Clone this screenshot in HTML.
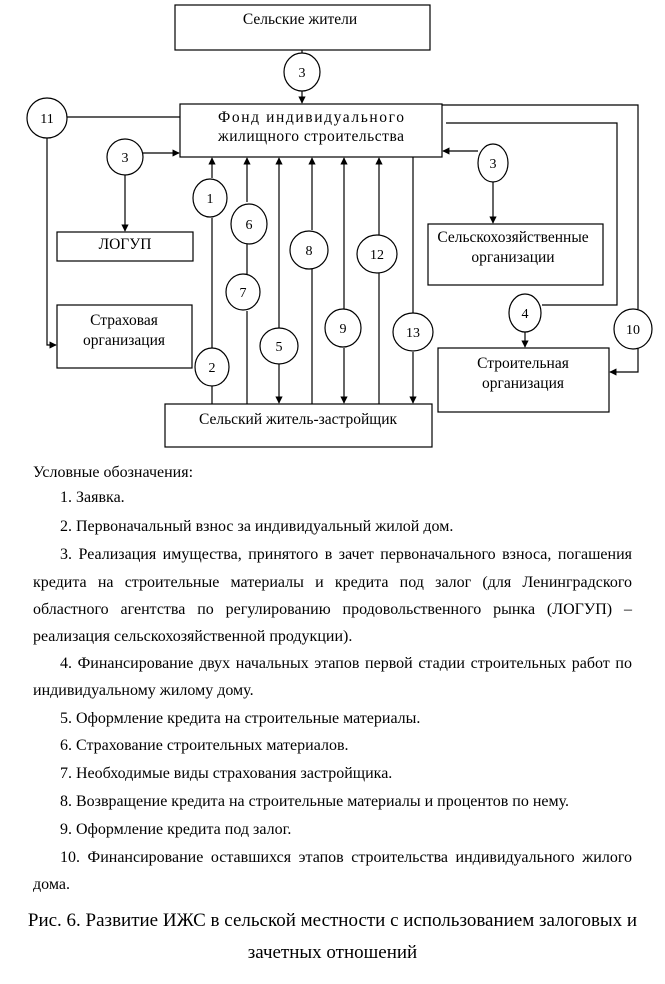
<!DOCTYPE html>
<html><head><meta charset="utf-8"><style>
body{margin:0;width:665px;height:984px;background:#fff;position:relative;overflow:hidden;font-family:"Liberation Serif",serif;color:#000}
svg{position:absolute;left:0;top:0}
.l{position:absolute;font-size:16px;line-height:18px;white-space:nowrap}
.j{position:absolute;font-size:16px;line-height:18px;left:33px;width:599px;text-align:justify;text-align-last:justify;white-space:nowrap}
.c{position:absolute;left:0;width:665px;text-align:center;font-size:19px;line-height:22px;white-space:nowrap}
</style></head><body>
<svg width="665" height="460" viewBox="0 0 665 460" font-family="Liberation Serif, serif" font-size="15.5">
<defs><marker id="a" viewBox="0 0 10 10" refX="9" refY="5" markerWidth="6" markerHeight="6" orient="auto"><path d="M0,0L10,5L0,10z"/></marker></defs>
<g fill="none" stroke="#000" stroke-width="1.2">
<rect x="175" y="5" width="255" height="45"/>
<rect x="180" y="104" width="262" height="53"/>
<rect x="57" y="232" width="136" height="29"/>
<rect x="57" y="305" width="135" height="63"/>
<rect x="428" y="224" width="175" height="61"/>
<rect x="438" y="348" width="171" height="64"/>
<rect x="165" y="404" width="267" height="43"/>
<line x1="302" y1="50" x2="302" y2="54"/>
<line x1="302" y1="90" x2="302" y2="103" marker-end="url(#a)"/>
<line x1="67" y1="117" x2="180" y2="117"/>
<polyline points="47,138 47,345 56,345" marker-end="url(#a)"/>
<line x1="143" y1="153" x2="179" y2="153" marker-end="url(#a)"/>
<line x1="125" y1="175" x2="125" y2="231" marker-end="url(#a)"/>
<line x1="478" y1="151" x2="443" y2="151" marker-end="url(#a)"/>
<line x1="493" y1="181" x2="493" y2="223" marker-end="url(#a)"/>
<polyline points="442,105 638,105 638,309"/>
<polyline points="638,347 638,372 610,372" marker-end="url(#a)"/>
<polyline points="446,123 617,123 617,305 542,305"/>
<line x1="525" y1="332" x2="525" y2="347" marker-end="url(#a)"/>
<line x1="212" y1="178" x2="212" y2="158" marker-end="url(#a)"/>
<line x1="212" y1="218" x2="212" y2="349"/>
<line x1="212" y1="386" x2="212" y2="404"/>
<line x1="247" y1="202" x2="247" y2="158" marker-end="url(#a)"/>
<line x1="247" y1="242" x2="247" y2="274"/>
<line x1="247" y1="311" x2="247" y2="404"/>
<line x1="279" y1="328" x2="279" y2="158" marker-end="url(#a)"/>
<line x1="279" y1="364" x2="279" y2="403" marker-end="url(#a)"/>
<line x1="312" y1="230" x2="312" y2="158" marker-end="url(#a)"/>
<line x1="312" y1="268" x2="312" y2="404"/>
<line x1="344" y1="310" x2="344" y2="158" marker-end="url(#a)"/>
<line x1="344" y1="348" x2="344" y2="403" marker-end="url(#a)"/>
<line x1="379" y1="235" x2="379" y2="158" marker-end="url(#a)"/>
<line x1="379" y1="272" x2="379" y2="404"/>
<line x1="413" y1="157" x2="413" y2="313"/>
<line x1="413" y1="352" x2="413" y2="403" marker-end="url(#a)"/>
</g>
<g fill="#fff" stroke="#000" stroke-width="1.2">
<ellipse cx="302" cy="72" rx="18" ry="19"/>
<ellipse cx="47" cy="118" rx="20" ry="20"/>
<ellipse cx="125" cy="157" rx="18" ry="18"/>
<ellipse cx="493" cy="163" rx="15" ry="19"/>
<ellipse cx="210" cy="198" rx="17" ry="19"/>
<ellipse cx="249" cy="224" rx="18" ry="20"/>
<ellipse cx="243" cy="292" rx="17" ry="18"/>
<ellipse cx="309" cy="250" rx="19" ry="19"/>
<ellipse cx="377" cy="254" rx="20" ry="19"/>
<ellipse cx="279" cy="346" rx="19" ry="18"/>
<ellipse cx="343" cy="328" rx="18" ry="19"/>
<ellipse cx="413" cy="332" rx="20" ry="19"/>
<ellipse cx="212" cy="367" rx="17" ry="19"/>
<ellipse cx="525" cy="313" rx="16" ry="19"/>
<ellipse cx="633" cy="329" rx="19" ry="20"/>
</g>
<g text-anchor="middle" fill="#000">
<text x="300" y="24">Сельские  жители</text>
<text x="311" y="122" textLength="186" lengthAdjust="spacing">Фонд индивидуального</text>
<text x="311" y="141" textLength="186" lengthAdjust="spacing">жилищного строительства</text>
<text x="125" y="249">ЛОГУП</text>
<text x="124" y="325">Страховая</text>
<text x="124" y="345">организация</text>
<text x="513" y="242">Сельскохозяйственные</text>
<text x="513" y="262">организации</text>
<text x="523" y="368">Строительная</text>
<text x="523" y="388">организация</text>
<text x="298" y="424">Сельский житель-застройщик</text>
<g font-size="14">
<text x="302" y="77">3</text><text x="47" y="123">11</text><text x="125" y="162">3</text><text x="493" y="168">3</text>
<text x="210" y="203">1</text><text x="249" y="229">6</text><text x="243" y="297">7</text><text x="309" y="255">8</text>
<text x="377" y="259">12</text><text x="279" y="351">5</text><text x="343" y="333">9</text><text x="413" y="337">13</text>
<text x="212" y="372">2</text><text x="525" y="318">4</text><text x="633" y="334">10</text>
</g></g>
</svg>
<div class="l" style="left:33px;top:464px">Условные обозначения:</div>
<div class="l" style="left:60px;top:489px">1. Заявка.</div>
<div class="l" style="left:60px;top:518px">2. Первоначальный взнос за индивидуальный жилой дом.</div>
<div class="j" style="left:60px;width:572px;top:546px">3. Реализация имущества, принятого в зачет первоначального взноса, погашения</div>
<div class="j" style="top:574px">кредита на строительные материалы и кредита под залог (для Ленинградского</div>
<div class="j" style="top:601px">областного агентства по регулированию продовольственного рынка (ЛОГУП) –</div>
<div class="l" style="left:33px;top:628px">реализация сельскохозяйственной продукции).</div>
<div class="j" style="left:60px;width:572px;top:655px">4. Финансирование двух начальных этапов первой стадии строительных работ по</div>
<div class="l" style="left:33px;top:682px">индивидуальному жилому дому.</div>
<div class="l" style="left:60px;top:710px">5. Оформление кредита на строительные материалы.</div>
<div class="l" style="left:60px;top:737px">6. Страхование строительных материалов.</div>
<div class="l" style="left:60px;top:765px">7. Необходимые виды страхования застройщика.</div>
<div class="l" style="left:60px;top:793px">8. Возвращение кредита на строительные материалы и процентов по нему.</div>
<div class="l" style="left:60px;top:821px">9. Оформление кредита под залог.</div>
<div class="j" style="left:60px;width:572px;top:849px">10. Финансирование оставшихся этапов строительства индивидуального жилого</div>
<div class="l" style="left:33px;top:876px">дома.</div>
<div class="c" style="top:910px">Рис. 6. Развитие  ИЖС в сельской местности  с использованием  залоговых и</div>
<div class="c" style="top:942px">зачетных отношений</div>
</body></html>
